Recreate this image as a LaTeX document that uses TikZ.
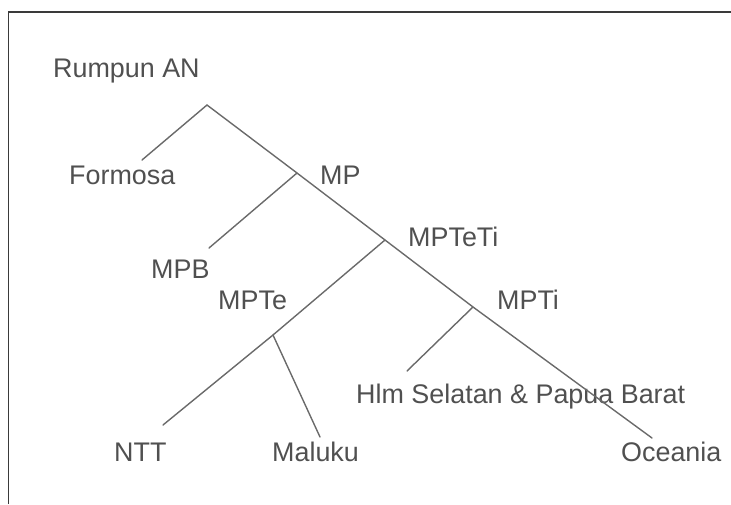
\documentclass[tikz,border=0pt]{standalone}
\usepackage{fontspec}
\setmainfont{Liberation Sans}
\definecolor{txtgray}{HTML}{505050}
\definecolor{linegray}{HTML}{6A6A6A}
\definecolor{framegray}{HTML}{3A3A3A}
\begin{document}
\begin{tikzpicture}[x=1pt,y=-1pt,
  lbl/.style={anchor=base west, inner sep=0pt, text=txtgray,
              font=\fontsize{26.9}{30}\selectfont},
  branch/.style={draw=linegray, line width=1.4pt, line cap=round}]
\useasboundingbox (0,0) rectangle (731,504);
% open frame: left and top edges only
\draw[framegray, line width=1.6pt] (8.5,504) -- (8.5,12) -- (731,12);

% branching points and branch ends
\coordinate (root)   at (207,105);
\coordinate (fEnd)   at (142,160);
\coordinate (mp)     at (297,173);
\coordinate (mpbEnd) at (209,248);
\coordinate (mpteti) at (385,240);
\coordinate (mpte)   at (273,335);
\coordinate (nttEnd) at (163,425);
\coordinate (malEnd) at (320,437);
\coordinate (mpti)   at (473,307);
\coordinate (hlmEnd) at (407,371);
\coordinate (oceEnd) at (652,438);

% labels
\node[lbl] (tRoot)   at (53,77)   {Rumpun AN};
\node[lbl] (tFor)    at (69,184)  {Formosa};
\node[lbl] (tMP)     at (320,184) {MP};
\node[lbl] (tMPB)    at (151,278) {MPB};
\node[lbl] (tMPTeTi) at (408,246) {MPTeTi};
\node[lbl] (tMPTe)   at (218,309) {MPTe};
\node[lbl] (tMPTi)   at (497,309) {MPTi};
\node[lbl] (tHlm)    at (356,403) {Hlm Selatan \& Papua Barat};
\node[lbl] (tNTT)    at (114,461) {NTT};
\node[lbl] (tMal)    at (272,461) {Maluku};
\node[lbl] (tOce)    at (621,461) {Oceania};

% tree branches
\draw[branch] (root) -- (fEnd);
\draw[branch] (root) -- (mp) -- (mpteti) -- (mpti) -- (oceEnd);
\draw[branch] (mp) -- (mpbEnd);
\draw[branch] (mpteti) -- (mpte) -- (nttEnd);
\draw[branch] (mpte) -- (malEnd);
\draw[branch] (mpti) -- (hlmEnd);
\end{tikzpicture}
\end{document}
